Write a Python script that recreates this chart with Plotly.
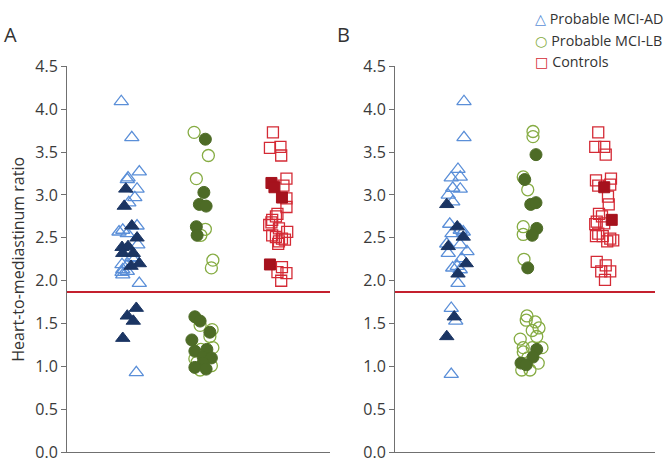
import plotly.graph_objects as go

# ---------------- data ----------------
# Panel A
A_AD_open = [4.09, 3.67, 3.27, 3.20, 3.18, 3.07, 2.97, 2.91, 2.64, 2.59, 2.57, 2.55, 2.42, 2.27, 2.26, 2.19, 2.19, 2.13, 2.10, 2.07, 2.11, 1.97, 0.93]
A_AD_open_j = [-0.09, 0.05, 0.15, 0.0, -0.01, 0.12, 0.09, 0.01, 0.12, -0.07, -0.12, -0.01, 0.13, 0.05, 0.09, -0.08, 0.0, -0.07, -0.08, -0.07, -0.01, 0.15, 0.11]
A_AD_fill = [3.07, 2.87, 2.64, 2.50, 2.39, 2.40, 2.32, 2.32, 2.20, 2.17, 1.68, 1.59, 1.53, 1.33]
A_AD_fill_j = [-0.03, -0.05, 0.05, 0.12, -0.08, 0.0, -0.07, 0.07, 0.15, 0.04, 0.11, -0.01, 0.07, -0.07]

A_LB_open = [3.73, 3.46, 3.19, 2.60, 2.53, 2.24, 2.15, 1.48, 1.43, 1.35, 1.20, 1.22, 1.09, 0.96, 1.01, 1.05]
A_LB_open_j = [-0.12, 0.07, -0.09, 0.03, -0.03, 0.13, 0.11, -0.04, 0.12, 0.09, -0.03, 0.13, -0.11, -0.04, 0.11, -0.08]
A_LB_fill = [3.65, 3.03, 2.89, 2.87, 2.63, 2.53, 1.58, 1.53, 1.40, 1.31, 1.18, 1.20, 1.11, 1.10, 1.04, 0.99, 0.97]
A_LB_fill_j = [0.03, 0.01, -0.05, 0.04, -0.09, -0.08, -0.11, -0.04, 0.09, -0.15, -0.11, 0.05, 0.0, 0.11, 0.0, -0.11, 0.04]

A_CT_open = [3.73, 3.55, 3.56, 3.46, 3.19, 3.11, 2.96, 2.86, 2.78, 2.75, 2.71, 2.68, 2.65, 2.61, 2.57, 2.53, 2.51, 2.49, 2.46, 2.48, 2.43, 2.16, 2.10, 2.09, 2.00]
A_CT_open_j = [-0.07, -0.11, 0.03, 0.04, 0.11, 0.07, 0.11, 0.11, -0.01, -0.03, -0.08, -0.09, -0.12, 0.01, 0.12, -0.08, -0.03, 0.05, 0.01, 0.09, 0.0, 0.05, -0.01, 0.11, 0.04]
A_CT_fill = [3.14, 3.09, 2.97, 2.19]
A_CT_fill_j = [-0.09, -0.05, 0.05, -0.11]

# Panel B
B_AD_open = [4.09, 3.67, 3.30, 3.20, 3.21, 3.08, 3.07, 3.00, 2.92, 2.66, 2.59, 2.55, 2.57, 2.43, 2.32, 2.42, 2.34, 2.26, 2.15, 2.17, 2.13, 1.97, 1.68, 1.53, 0.91]
B_AD_open_j = [0.12, 0.12, 0.04, -0.05, 0.07, -0.03, 0.07, -0.09, -0.03, -0.07, 0.07, -0.04, 0.11, -0.11, -0.09, 0.07, 0.16, 0.09, -0.03, 0.03, 0.07, 0.04, -0.05, 0.01, -0.05]
B_AD_fill = [2.89, 2.63, 2.51, 2.40, 2.20, 2.08, 1.58, 1.35]
B_AD_fill_j = [-0.11, 0.03, 0.11, -0.09, 0.15, 0.04, -0.01, -0.11]

B_LB_open = [3.74, 3.68, 3.21, 3.06, 2.63, 2.54, 2.25, 1.59, 1.54, 1.52, 1.45, 1.42, 1.35, 1.32, 1.22, 1.22, 1.22, 1.17, 1.04, 0.96, 0.96, 1.10]
B_LB_open_j = [0.04, 0.04, -0.09, -0.03, -0.09, -0.09, -0.08, -0.04, -0.05, 0.07, 0.12, 0.03, 0.09, -0.13, -0.09, 0.03, 0.16, -0.09, 0.11, -0.11, 0.0, -0.03]
B_LB_fill = [3.47, 3.18, 2.89, 2.91, 2.61, 2.53, 2.15, 1.20, 1.11, 1.04, 1.02]
B_LB_fill_j = [0.08, -0.07, 0.01, 0.08, 0.09, 0.03, -0.03, 0.09, 0.04, -0.12, -0.05]

B_CT_open = [3.73, 3.56, 3.56, 3.47, 3.17, 3.19, 3.11, 3.12, 2.98, 2.89, 2.78, 2.75, 2.69, 2.66, 2.67, 2.55, 2.52, 2.52, 2.49, 2.46, 2.47, 2.22, 2.18, 2.11, 2.11, 2.01]
B_CT_open_j = [-0.09, -0.13, -0.01, 0.01, -0.12, 0.08, -0.09, 0.07, 0.04, 0.05, -0.08, -0.04, -0.11, -0.13, -0.01, -0.09, -0.12, -0.03, 0.07, 0.03, 0.11, -0.11, 0.01, -0.05, 0.07, 0.0]
B_CT_fill = [3.09, 2.71]
B_CT_fill_j = [-0.01, 0.09]

group_names = ["Probable MCI-AD", "Probable MCI-LB", "Controls"]
legend_glyphs = ["△", "○", "□"]
cutoff = 1.87
y_ticks = [0.0, 0.5, 1.0, 1.5, 2.0, 2.5, 3.0, 3.5, 4.0, 4.5]

# ---------------- styles ----------------
styles = {
    "Probable MCI-AD": dict(sym="triangle-up", open_c="#5b8fd8", fill_c="#1b3563", size=12.5),
    "Probable MCI-LB": dict(sym="circle", open_c="#86ac43", fill_c="#4d6b26", size=12),
    "Controls": dict(sym="square", open_c="#d42a35", fill_c="#a6121d", size=11),
}

fig = go.Figure()

panels = {
    "x": [(A_AD_open, A_AD_open_j, A_AD_fill, A_AD_fill_j),
          (A_LB_open, A_LB_open_j, A_LB_fill, A_LB_fill_j),
          (A_CT_open, A_CT_open_j, A_CT_fill, A_CT_fill_j)],
    "x2": [(B_AD_open, B_AD_open_j, B_AD_fill, B_AD_fill_j),
           (B_LB_open, B_LB_open_j, B_LB_fill, B_LB_fill_j),
           (B_CT_open, B_CT_open_j, B_CT_fill, B_CT_fill_j)],
}

for xa, groups in panels.items():
    ya = "y" if xa == "x" else "y2"
    for gi, (name, (ov, oj, fv, fj)) in enumerate(zip(group_names, groups)):
        st = styles[name]
        pos = gi + 1
        fig.add_trace(go.Scatter(
            x=[pos + j for j in oj], y=ov, mode="markers", name=name,
            xaxis=xa, yaxis=ya, showlegend=False,
            marker=dict(symbol=st["sym"] + "-open", size=st["size"], color=st["open_c"],
                        line=dict(width=1.3, color=st["open_c"])),
            hoverinfo="y"))
        fig.add_trace(go.Scatter(
            x=[pos + j for j in fj], y=fv, mode="markers", name=name,
            xaxis=xa, yaxis=ya, showlegend=False,
            marker=dict(symbol=st["sym"], size=st["size"], color=st["fill_c"],
                        line=dict(width=1, color=st["fill_c"])),
            hoverinfo="y"))

# cutoff lines
for xa, ya in (("x", "y"), ("x2", "y2")):
    fig.add_shape(type="line", xref=xa + " domain", yref=ya, x0=0, x1=1, y0=cutoff, y1=cutoff,
                  line=dict(color="#c4202e", width=2))

W, H = 669, 470
yaxis_common = dict(range=[0, 4.5], tickvals=y_ticks, ticktext=[f"{v:.1f}" for v in y_ticks],
                    showgrid=False, zeroline=False, showline=True, linecolor="#707070", linewidth=1,
                    ticks="outside", ticklen=5, tickcolor="#707070",
                    tickfont=dict(size=16, color="#3a3a3a"), ticklabeloverflow="allow",
                    domain=[(H - 463) / H, (H - 58) / H])
xaxis_common = dict(showgrid=False, zeroline=False, showline=True, linecolor="#707070", linewidth=1.2,
                    showticklabels=False, ticks="")

annotations = [
    dict(text="A", x=10.5 / W, y=1 - 25 / H, xref="paper", yref="paper", xanchor="center", yanchor="middle",
         showarrow=False, font=dict(size=20, color="#333333")),
    dict(text="B", x=343 / W, y=1 - 25 / H, xref="paper", yref="paper", xanchor="center", yanchor="middle",
         showarrow=False, font=dict(size=20, color="#333333")),
]
# legend drawn as text rows with coloured symbol glyphs
for i, (name, g) in enumerate(zip(group_names, legend_glyphs)):
    c = styles[name]["open_c"]
    annotations.append(dict(
        text=f"<span style='color:{c}; font-family:DejaVu Sans'>{g}</span> {name}",
        x=533 / W, y=1 - (8 + 22.5 * i) / H, xref="paper", yref="paper",
        xanchor="left", yanchor="middle", showarrow=False,
        font=dict(size=14.3, color="#333333")))

fig.update_layout(
    width=W, height=H,
    margin=dict(l=0, r=0, t=0, b=0),
    paper_bgcolor="white", plot_bgcolor="white",
    font=dict(family="Open Sans", color="#333333"),
    showlegend=False,
    xaxis=dict(xaxis_common, range=[0.187, 3.69], domain=[67 / W, 330 / W], anchor="y"),
    xaxis2=dict(xaxis_common, range=[0.2, 3.667], domain=[395 / W, 655 / W], anchor="y2"),
    yaxis=dict(yaxis_common, anchor="x",
               title=dict(text="Heart-to-mediastinum ratio", font=dict(size=16, color="#333333"), standoff=6)),
    yaxis2=dict(yaxis_common, anchor="x2"),
    annotations=annotations,
)

fig.write_html("out.html", config={"displayModeBar": False},
               post_script="document.body.style.margin='0';")
